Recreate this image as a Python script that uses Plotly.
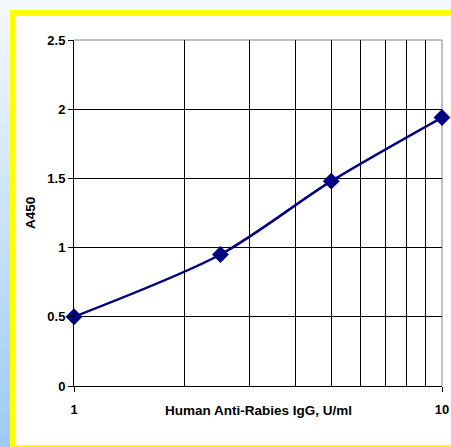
import plotly.graph_objects as go

# Data
conc = [1, 2.5, 5, 10]
a450 = [0.5, 0.95, 1.48, 1.94]
x_major_ticks = [1, 10]
x_minor_ticks = [2, 3, 4, 5, 6, 7, 8, 9]
y_ticks = [0, 0.5, 1, 1.5, 2, 2.5]
x_title = "Human Anti-Rabies IgG, U/ml"
y_title = "A450"

W, H = 451, 447
L, R, T, B = 74, 9, 40, 61
PW, PH = W - L - R, H - T - B


def px(x):
    return (x - L) / PW


def py(y):
    return (H - B - y) / PH


shapes = []
# left gradient strip
n = 40
c0 = (244, 248, 253)
c1 = (160, 202, 245)
for i in range(n):
    t = i / (n - 1)
    c = tuple(int(round(c0[k] + (c1[k] - c0[k]) * t)) for k in range(3))
    y0 = H * i / n
    y1 = H * (i + 1) / n + 0.5
    shapes.append(dict(type="rect", xref="paper", yref="paper",
                       x0=px(0), x1=px(10), y0=py(y0), y1=py(y1),
                       fillcolor="rgb(%d,%d,%d)" % c, line=dict(width=0), layer="below"))
# yellow frame
shapes.append(dict(type="rect", xref="paper", yref="paper",
                   x0=px(10), x1=px(W + 10), y0=py(10), y1=py(H + 10),
                   fillcolor="#ffff00", line=dict(width=0), layer="below"))
shapes.append(dict(type="rect", xref="paper", yref="paper",
                   x0=px(15.5), x1=px(W + 10), y0=py(16), y1=py(445),
                   fillcolor="#ffffff", line=dict(width=0), layer="below"))
# gray top and right borders
shapes.append(dict(type="line", xref="paper", yref="paper", x0=0, x1=1, y0=1, y1=1,
                   line=dict(color="#808080", width=1), layer="between"))
shapes.append(dict(type="line", xref="paper", yref="paper", x0=1, x1=1, y0=0, y1=1,
                   line=dict(color="#808080", width=1), layer="between"))

font_t = dict(family="Liberation Sans, Arial", size=13, color="black", weight="bold")
font_a = dict(family="Liberation Sans, Arial", size=13.5, color="black", weight="bold")

fig = go.Figure()
fig.add_trace(go.Scatter(
    x=conc, y=a450, mode="lines+markers",
    line=dict(color="#000080", width=2.5, shape="spline", smoothing=0.8),
    marker=dict(symbol="diamond", size=13, color="#000080"),
    cliponaxis=False, showlegend=False,
))

fig.update_layout(
    width=W, height=H, autosize=False,
    margin=dict(l=L, r=R, t=T, b=B, autoexpand=False),
    paper_bgcolor="rgb(244,248,253)",
    plot_bgcolor="rgba(0,0,0,0)",
    shapes=shapes,
    xaxis=dict(
        type="log", range=[0, 1], automargin=False,
        tickmode="array", tickvals=x_major_ticks, ticktext=[str(v) for v in x_major_ticks],
        ticks="outside", ticklen=5, tickcolor="black",
        showgrid=True, gridcolor="black", gridwidth=1,
        minor=dict(tickmode="array", tickvals=x_minor_ticks, showgrid=True,
                   gridcolor="black", gridwidth=1, ticks=""),
        showline=True, linecolor="black", linewidth=1,
        tickfont=font_t, zeroline=False, ticklabelstandoff=6,
    ),
    yaxis=dict(
        range=[0, 2.5], tickmode="array", tickvals=y_ticks, automargin=False,
        ticktext=["0", "0.5", "1", "1.5", "2", "2.5"],
        ticks="outside", ticklen=5, tickcolor="black",
        showgrid=True, gridcolor="black", gridwidth=1,
        showline=True, linecolor="black", linewidth=1,
        tickfont=font_t, zeroline=False,
    ),
    annotations=[
        dict(text=x_title, xref="paper", yref="paper", x=0.5, y=py(410),
             showarrow=False, font=font_a, xanchor="center", yanchor="middle"),
        dict(text=y_title, xref="paper", yref="paper", x=px(30), y=0.5,
             showarrow=False, font=font_a, textangle=-90, xanchor="center", yanchor="middle"),
    ],
)

fig.write_html("out.html", config={"displayModeBar": False},
               post_script="document.body.style.margin='0';document.body.style.padding='0';")
